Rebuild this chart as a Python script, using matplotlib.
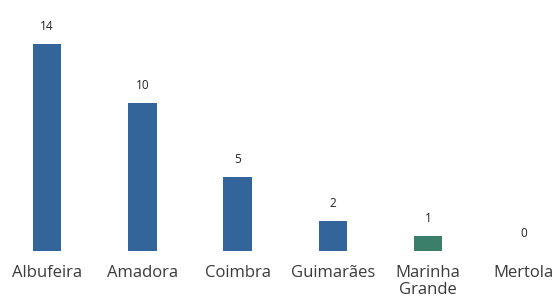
import matplotlib.pyplot as plt
from matplotlib import rcParams

rcParams['font.family'] = ['Open Sans', 'DejaVu Sans']
rcParams['font.size'] = 10

# data
cities = ['Albufeira', 'Amadora', 'Coimbra', 'Guimarães', 'Marinha\nGrande', 'Mertola']
counts = [14, 10, 5, 2, 1, 0]
colors = ['#33649a', '#33649a', '#33649a', '#33649a', '#3b7f6a', '#33649a']

fig = plt.figure(figsize=(5.6, 3.02), dpi=100)
ax = fig.add_axes([0, 0.169, 1, 0.831])

x = range(len(cities))
ax.bar(x, counts, width=0.30, color=colors)

for i, v in enumerate(counts):
    ax.annotate(str(v), (i, v), xytext=(0, 8), textcoords='offset points',
                ha='center', va='bottom', fontsize=8.5, color='#222222')

ax.set_xlim(-0.493, 5.383)
ax.set_ylim(0, 16.96)
ax.set_xticks(list(x))
ax.set_xticklabels(cities, fontsize=12, color='#3a3a3a', linespacing=1.1)
ax.tick_params(axis='x', length=0, pad=10)
ax.set_yticks([])
for s in ax.spines.values():
    s.set_visible(False)

fig.savefig('out.png', dpi=100)
